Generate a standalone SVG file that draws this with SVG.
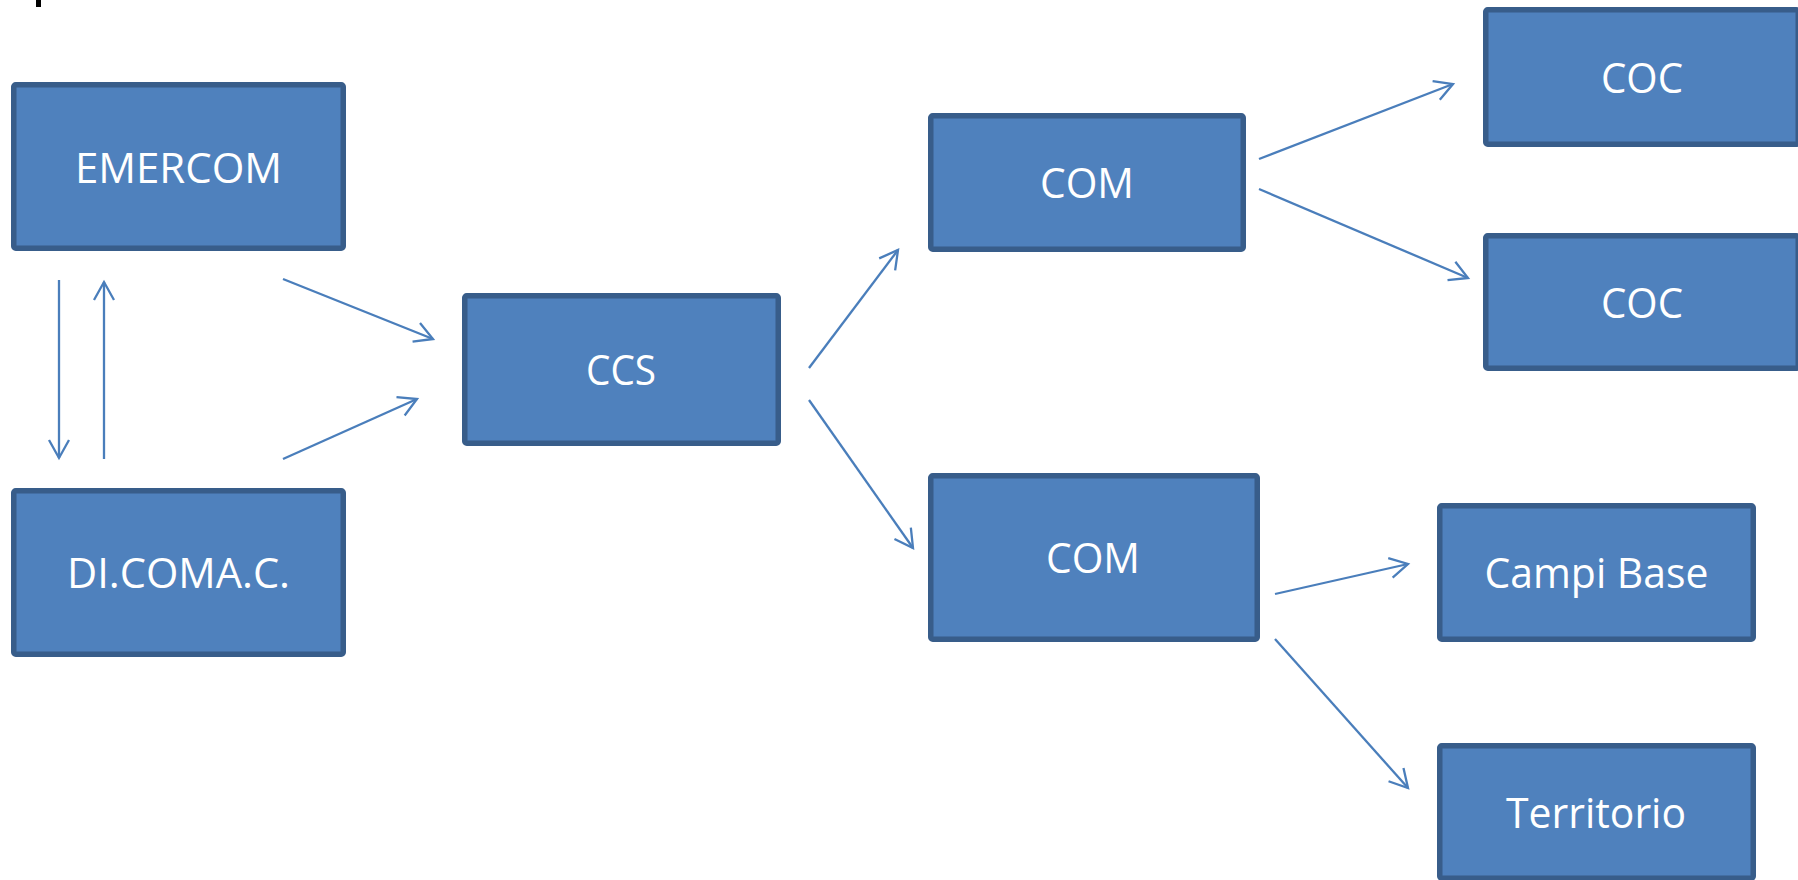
<svg xmlns="http://www.w3.org/2000/svg" width="1798" height="880" viewBox="0 0 1798 880">
<defs>
<style>
.box{fill:#4F81BD;stroke:#385D8A;stroke-width:5.5}
.lbl{fill:#FFFFFF;font-family:"Open Sans","Liberation Sans",sans-serif;font-size:42px;text-anchor:middle}
.conn{stroke:#4A7EBB;stroke-width:2.3;fill:none}
</style>
<marker id="arr" markerUnits="userSpaceOnUse" markerWidth="24" markerHeight="24" refX="19" refY="12" orient="auto" overflow="visible">
<path d="M1,2 L19,12 L1,22" fill="none" stroke="#4A7EBB" stroke-width="2.3"/>
</marker>
</defs>
<rect width="1798" height="880" fill="#FFFFFF"/>
<rect x="36" y="0" width="5" height="7" fill="#000000"/>
<g id="connectors">
<line class="conn" x1="59" y1="280" x2="59" y2="458" marker-end="url(#arr)"/>
<line class="conn" x1="104" y1="459" x2="104" y2="282" marker-end="url(#arr)"/>
<line class="conn" x1="283" y1="279" x2="433" y2="339" marker-end="url(#arr)"/>
<line class="conn" x1="283" y1="459" x2="417" y2="399" marker-end="url(#arr)"/>
<line class="conn" x1="809" y1="368" x2="898" y2="250" marker-end="url(#arr)"/>
<line class="conn" x1="809" y1="400" x2="913" y2="548" marker-end="url(#arr)"/>
<line class="conn" x1="1259" y1="159" x2="1453" y2="84" marker-end="url(#arr)"/>
<line class="conn" x1="1259" y1="189" x2="1468" y2="278" marker-end="url(#arr)"/>
<line class="conn" x1="1275" y1="594" x2="1408" y2="564" marker-end="url(#arr)"/>
<line class="conn" x1="1275" y1="639" x2="1408" y2="788" marker-end="url(#arr)"/>
</g>
<g id="emercom">
<rect class="box" x="13.75" y="84.75" width="329.5" height="163.5" rx="2"/>
<text class="lbl" x="178.5" y="183" textLength="207" lengthAdjust="spacingAndGlyphs">EMERCOM</text>
</g>
<g id="dicomac">
<rect class="box" x="13.75" y="490.75" width="329.5" height="163.5" rx="2"/>
<text class="lbl" x="178.5" y="588" textLength="223" lengthAdjust="spacingAndGlyphs">DI.COMA.C.</text>
</g>
<g id="ccs">
<rect class="box" x="464.75" y="295.75" width="313.5" height="147.5" rx="2"/>
<text class="lbl" x="621" y="385" textLength="70" lengthAdjust="spacingAndGlyphs">CCS</text>
</g>
<g id="com1">
<rect class="box" x="930.75" y="115.75" width="312.5" height="133.5" rx="2"/>
<text class="lbl" x="1087" y="198" textLength="94" lengthAdjust="spacingAndGlyphs">COM</text>
</g>
<g id="com2">
<rect class="box" x="930.75" y="475.75" width="326.5" height="163.5" rx="2"/>
<text class="lbl" x="1093" y="573" textLength="94" lengthAdjust="spacingAndGlyphs">COM</text>
</g>
<g id="coc1">
<rect class="box" x="1485.75" y="9.75" width="312.5" height="134.5" rx="2"/>
<text class="lbl" x="1642" y="93" textLength="82" lengthAdjust="spacingAndGlyphs">COC</text>
</g>
<g id="coc2">
<rect class="box" x="1485.75" y="235.75" width="312.5" height="132.5" rx="2"/>
<text class="lbl" x="1642" y="318" textLength="82" lengthAdjust="spacingAndGlyphs">COC</text>
</g>
<g id="campibase">
<rect class="box" x="1439.75" y="505.75" width="313.5" height="133.5" rx="2"/>
<text class="lbl" x="1596.5" y="588" textLength="224" lengthAdjust="spacingAndGlyphs">Campi Base</text>
</g>
<g id="territorio">
<rect class="box" x="1439.75" y="745.75" width="313.5" height="132.5" rx="2"/>
<text class="lbl" x="1596" y="828" textLength="180" lengthAdjust="spacingAndGlyphs">Territorio</text>
</g>
</svg>
